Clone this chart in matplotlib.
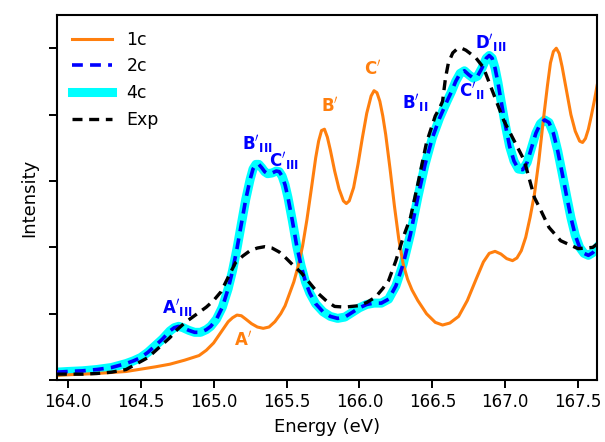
import matplotlib
matplotlib.use('Agg')
import matplotlib.pyplot as plt

# 1c calculation
e_1c = [163.925, 164.00, 164.20, 164.40, 164.60, 164.70, 164.80, 164.90, 164.95, 165.00,
        165.05, 165.10, 165.13, 165.16, 165.19, 165.22, 165.26, 165.30, 165.34, 165.38,
        165.42, 165.46, 165.49, 165.52, 165.55, 165.58, 165.61, 165.64, 165.67, 165.70,
        165.72, 165.74, 165.76, 165.78, 165.80, 165.83, 165.86, 165.89, 165.91, 165.93,
        165.96, 165.99, 166.02, 166.05, 166.08, 166.10, 166.12, 166.14, 166.16, 166.18,
        166.21, 166.24, 166.27, 166.30, 166.33, 166.36, 166.40, 166.46, 166.52, 166.57,
        166.62, 166.68, 166.74, 166.80, 166.85, 166.89, 166.93, 166.97, 167.01, 167.05,
        167.08, 167.11, 167.14, 167.17, 167.20, 167.23, 167.26, 167.29, 167.31, 167.33,
        167.35, 167.37, 167.39, 167.42, 167.45, 167.48, 167.51, 167.53, 167.55, 167.57,
        167.59, 167.61, 167.63]
i_1c = [0.07, 0.08, 0.10, 0.13, 0.20, 0.24, 0.30, 0.37, 0.45, 0.56,
        0.72, 0.88, 0.94, 0.98, 0.97, 0.92, 0.85, 0.80, 0.78, 0.80,
        0.88, 1.00, 1.12, 1.30, 1.48, 1.72, 2.02, 2.42, 2.88, 3.35,
        3.60, 3.76, 3.78, 3.66, 3.47, 3.15, 2.88, 2.70, 2.66, 2.70,
        2.90, 3.25, 3.65, 4.02, 4.28, 4.36, 4.33, 4.20, 3.98, 3.70,
        3.18, 2.62, 2.12, 1.75, 1.52, 1.36, 1.20, 1.00, 0.87, 0.83,
        0.86, 0.96, 1.20, 1.52, 1.78, 1.91, 1.94, 1.90, 1.83, 1.80,
        1.84, 1.95, 2.15, 2.45, 2.80, 3.30, 3.90, 4.45, 4.78, 4.95,
        5.00, 4.92, 4.72, 4.36, 4.00, 3.75, 3.60, 3.58, 3.64, 3.78,
        3.98, 4.20, 4.44]

# 2c / 4c calculation (the two lie on top of each other)
e_2c = [163.925, 164.00, 164.10, 164.20, 164.30, 164.40, 164.45, 164.50, 164.55, 164.60,
        164.65, 164.70, 164.73, 164.76, 164.79, 164.83, 164.87, 164.91, 164.95, 164.98,
        165.02, 165.06, 165.10, 165.13, 165.16, 165.19, 165.22, 165.25, 165.27, 165.29,
        165.31, 165.33, 165.35, 165.37, 165.40, 165.43, 165.45, 165.47, 165.49, 165.51,
        165.54, 165.57, 165.60, 165.63, 165.66, 165.70, 165.75, 165.80, 165.85, 165.90,
        165.95, 166.00, 166.05, 166.10, 166.15, 166.20, 166.25, 166.30, 166.35, 166.40,
        166.45, 166.50, 166.55, 166.60, 166.63, 166.66, 166.69, 166.72, 166.75, 166.78,
        166.81, 166.84, 166.87, 166.89, 166.91, 166.93, 166.95, 166.97, 167.00, 167.03,
        167.06, 167.09, 167.12, 167.15, 167.18, 167.21, 167.24, 167.27, 167.30, 167.33,
        167.36, 167.39, 167.42, 167.45, 167.48, 167.51, 167.54, 167.57, 167.60, 167.63]
i_2c = [0.12, 0.13, 0.14, 0.16, 0.19, 0.25, 0.29, 0.34, 0.42, 0.52,
        0.62, 0.74, 0.79, 0.81, 0.79, 0.75, 0.72, 0.72, 0.76, 0.81,
        0.92, 1.10, 1.38, 1.65, 1.98, 2.35, 2.72, 3.02, 3.18, 3.25,
        3.25, 3.20, 3.14, 3.11, 3.12, 3.15, 3.14, 3.07, 2.94, 2.75,
        2.40, 2.02, 1.72, 1.48, 1.31, 1.15, 1.03, 0.96, 0.93, 0.95,
        1.02, 1.09, 1.14, 1.16, 1.16, 1.22, 1.42, 1.75, 2.20, 2.75,
        3.25, 3.65, 3.95, 4.20, 4.34, 4.50, 4.62, 4.66, 4.60, 4.55,
        4.58, 4.70, 4.85, 4.89, 4.85, 4.70, 4.48, 4.22, 3.85, 3.52,
        3.30, 3.18, 3.17, 3.28, 3.50, 3.72, 3.86, 3.92, 3.88, 3.72,
        3.45, 3.12, 2.78, 2.45, 2.18, 2.00, 1.91, 1.88, 1.92, 2.00]
e_4c = e_2c
i_4c = i_2c

# experiment
e_exp = [163.925, 164.00, 164.10, 164.20, 164.30, 164.40, 164.45, 164.50, 164.55, 164.60,
         164.65, 164.70, 164.75, 164.80, 164.85, 164.90, 164.95, 165.00, 165.05, 165.10,
         165.15, 165.20, 165.25, 165.30, 165.35, 165.40, 165.45, 165.50, 165.55, 165.60,
         165.66, 165.72, 165.78, 165.83, 165.90, 165.99, 166.05, 166.11, 166.16, 166.20,
         166.25, 166.30, 166.35, 166.40, 166.46, 166.52, 166.55, 166.57, 166.59, 166.61,
         166.64, 166.67, 166.70, 166.73, 166.76, 166.80, 166.85, 166.92, 166.99, 167.06,
         167.13, 167.20, 167.23, 167.30, 167.38, 167.50, 167.60, 167.63]
i_exp = [0.09, 0.09, 0.09, 0.10, 0.12, 0.16, 0.22, 0.28, 0.34, 0.44,
         0.54, 0.64, 0.76, 0.86, 0.94, 1.02, 1.10, 1.20, 1.33, 1.55,
         1.77, 1.87, 1.95, 1.99, 2.01, 1.99, 1.93, 1.83, 1.72, 1.62,
         1.46, 1.30, 1.18, 1.11, 1.10, 1.12, 1.17, 1.25, 1.38, 1.50,
         1.80, 2.15, 2.45, 2.95, 3.58, 3.98, 4.10, 4.20, 4.55, 4.78,
         4.93, 4.99, 5.00, 4.97, 4.92, 4.85, 4.71, 4.31, 3.91, 3.61,
         3.31, 2.75, 2.62, 2.30, 2.10, 1.98, 2.00, 2.05]

# peak labels: text, x, y, colour
lbl_text = [r"$\mathbf{A}'_{\mathbf{III}}$", r"$\mathbf{A}'$", r"$\mathbf{B}'_{\mathbf{III}}$",
            r"$\mathbf{C}'_{\mathbf{III}}$", r"$\mathbf{B}'$", r"$\mathbf{C}'$",
            r"$\mathbf{B}'_{\mathbf{II}}$", r"$\mathbf{C}'_{\mathbf{II}}$", r"$\mathbf{D}'_{\mathbf{III}}$"]
lbl_x = [164.75, 165.20, 165.30, 165.48, 165.80, 166.09, 166.38, 166.77, 166.90]
lbl_y = [1.08, 0.60, 3.56, 3.30, 4.13, 4.69, 4.17, 4.36, 5.08]
lbl_col = ['blue', '#ff7f0e', 'blue', 'blue', '#ff7f0e', '#ff7f0e', 'blue', 'blue', 'blue']

fig = plt.figure(figsize=(6.05, 4.42), dpi=100)
ax = fig.add_axes([0.094, 0.140, 0.893, 0.826])

ax.plot(e_1c, i_1c, color='#ff7f0e', lw=2.2, label='1c', zorder=2)
ax.plot(e_2c, i_2c, color='blue', lw=2.6, ls=(0, (3, 2)), label='2c', zorder=3)
ax.plot(e_4c, i_4c, color='cyan', lw=6.5, label='4c', zorder=1)
ax.plot(e_exp, i_exp, color='black', lw=2.4, ls=(0, (3, 2)), label='Exp', zorder=4)

for t, x, y, c in zip(lbl_text, lbl_x, lbl_y, lbl_col):
    ax.text(x, y, t, color=c, fontsize=12, ha='center', va='center')

ax.set_xlim(163.925, 167.63)
ax.set_ylim(0, 5.5)
ax.set_xticks([164.0, 164.5, 165.0, 165.5, 166.0, 166.5, 167.0, 167.5])
ax.set_yticks([0, 1, 2, 3, 4, 5])
ax.set_yticklabels([])
ax.tick_params(labelsize=12, length=6, width=1.4)
for s in ax.spines.values():
    s.set_linewidth(1.5)

ax.set_xlabel('Energy (eV)', fontsize=13, labelpad=5)
ax.set_ylabel('Intensity', fontsize=13)
ax.legend(loc='upper left', frameon=False, fontsize=12.5, handlelength=2.3)

plt.savefig('out.png', dpi=100)
